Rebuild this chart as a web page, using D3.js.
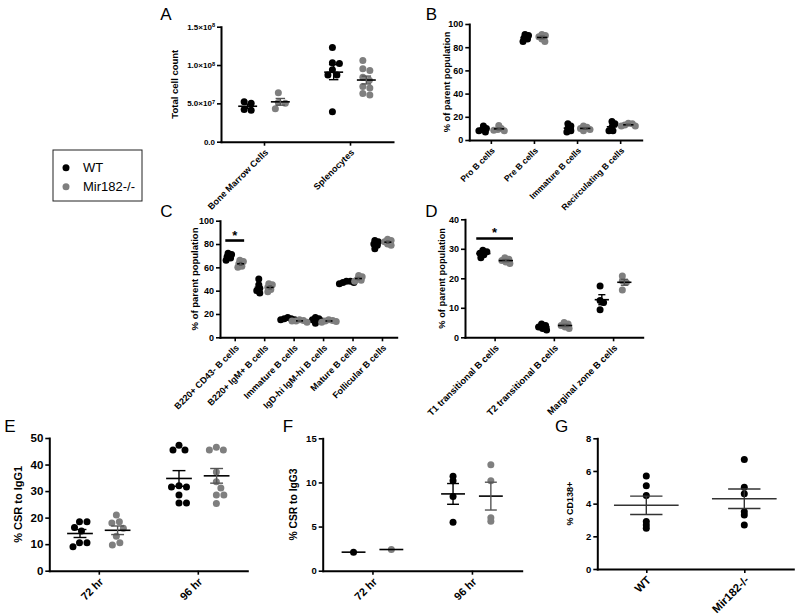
<!DOCTYPE html>
<html>
<head>
<meta charset="utf-8">
<script src="https://cdn.jsdelivr.net/npm/d3@7"></script>
<style>
body{margin:0;background:#fff}
svg{display:block}
text{font-family:Arial,"Liberation Sans",sans-serif}
</style>
</head>
<body>
<svg id="fig" width="800" height="616"></svg>
<script>
// ---- data ----
// A: total cell count
var aCats=['Bone Marrow Cells','Splenocytes'];
var aWT=[[5.2e7,5.0e7,4.2e7,4.1e7],[1.23e8,1.03e8,1.02e8,0.94e8,0.87e8,0.87e8,0.39e8]];
var aKO=[[6.4e7,5.1e7,5.0e7,4.3e7],[1.06e8,0.95e8,0.93e8,0.84e8,0.80e8,0.72e8,0.70e8,0.63e8,0.61e8]];
var aTicks=[0,5e7,1e8,1.5e8];

// B: bone marrow subsets
var bCats=['Pro B cells','Pre B cells','Immature B cells','Recirculating B cells'];
var bWT=[[12,10,9,8,7],[91,90,88,87,85],[14,12,10,8,7],[16,14,11,8,8]];
var bKO=[[12.5,10,9,8.5,8],[91,90,89,87,85],[12,11,10,9,8],[14.5,14,13,12,12]];
var bTicks=[0,20,40,60,80,100];

// C: spleen subsets
var cCats=['B220+ CD43- B cells','B220+ IgM+ B cells','Immature B cells','IgD-hi IgM-hi B cells','Mature B cells','Follicular B cells'];
var cWT=[[72,71,69,68,66],[50,45,42,40,38],[17,16,16,15,15],[17,16,15,14,12],[48,48,47,47,46],[83,82,80,79,76]];
var cKO=[[66,65,63,61,60],[46,45,43,41,39],[15,14.5,14,14,13],[15,14.5,14,13.5,13],[53,52,50,49,48],[84,83,82,80,79]];
var cTicks=[0,20,40,60,80,100];
var cSig=[{cat:'B220+ CD43- B cells',y:83}];

// D: transitional / marginal zone
var dCats=['T1 transitional B cells','T2 transitional B cells','Marginal zone B cells'];
var dWT=[[29.5,29,28.5,28,27],[4.5,4,3.5,3,2.5],[17.4,12.5,11.8,9.3]];
var dKO=[[27,26.5,26,25.5,25],[5,4.5,4,3.5,3],[20.8,19.2,18.6,16]];
var dTicks=[0,10,20,30,40];
var dSig=[{cat:'T1 transitional B cells',y:33.5}];

// E: CSR to IgG1
var eCats=['72 hr','96 hr'];
var eWT=[[18.4,18.4,16.3,15,10.5,10.5,9],[47.3,45.5,45.5,32,31.5,31.5,28.5,25.5,25.5]];
var eKO=[[21,18.4,18,16,13,10.5,9.7],[46.5,45.5,45.5,37.2,33.5,31.2,28.5,28.5,25.3]];
var eTicks=[0,10,20,30,40,50];

// F: CSR to IgG3
var fCats=['72 hr','96 hr'];
var fWT=[[2.1],[10.7,10.2,8.4,5.5]];
var fKO=[[2.4],[12,10.2,6,5.6]];
var fTicks=[0,5,10,15];

// G: CD138+
var gCats=['WT','Mir182-/-'];
var gVals=[[5.7,5.1,4.5,2.9,2.7,2.5],[6.7,5.0,4.6,3.5,3.3,2.7]];
var gTicks=[0,2,4,6,8];

var BLACK='#000', GREY='#7f7f7f';
var R=3.5;

var svg=d3.select('#fig');

function sem(a){
	if(a.length<2) return 0;
	return d3.deviation(a)/Math.sqrt(a.length);
}

// simple beeswarm: offsets so dots don't sit closer than sep
function swarm(vals,y,sep){
	var idx=vals.map(function(v,i){return i;}).sort(function(i,j){return vals[j]-vals[i];});
	var placed=[], off=[];
	idx.forEach(function(i){
		var py=y(vals[i]), k=0, cand=0;
		while(true){
			cand=k===0?0:(k%2?1:-1)*Math.ceil(k/2)*0.5;
			var ok=placed.every(function(p){return (p.x-cand)*(p.x-cand)+(p.y-py)*(p.y-py)>=sep*sep;});
			if(ok) break;
			k++;
		}
		placed.push({x:cand,y:py});
		off[i]=cand;
	});
	var ext=d3.extent(off), c=(ext[0]+ext[1])/2;
	return off.map(function(o){return o-c;});
}

function sciLabel(sel){
	sel.each(function(d){
		var t=d3.select(this).text(null);
		if(d===0){t.text('0.0');return;}
		var e=Math.floor(Math.log10(d)), m=(d/Math.pow(10,e)).toFixed(1);
		t.append('tspan').text(m+'\u00d710');
		t.append('tspan').attr('dy','-0.45em').style('font-size','70%').text(e);
	});
}

function panel(p){
	var g=svg.append('g');
	var x=d3.scalePoint().domain(p.cats).range([p.x0,p.x1]).padding(0.5);
	var y=d3.scaleLinear().domain([0,p.ymax]).range([p.y0,p.y1]);
	var step=x.step();

	// axes
	var ya=g.append('g').attr('transform','translate('+p.x0+',0)')
		.call(d3.axisLeft(y).tickValues(p.ticks).tickSize(4).tickSizeOuter(0).tickPadding(2));
	var xa=g.append('g').attr('transform','translate(0,'+p.y0+')')
		.call(d3.axisBottom(x).tickSize(4).tickSizeOuter(0));
	[ya,xa].forEach(function(a){
		a.attr('font-family',null).attr('font-size',null);
		a.select('.domain').style('stroke','#000').style('stroke-width','2px').style('stroke-linecap','square');
		a.selectAll('.tick line').style('stroke','#000').style('stroke-width','1.6px');
		a.selectAll('text').style('fill','#000').style('font-weight','bold');
	});
	ya.selectAll('text').style('font-size',p.tickFont+'px');
	if(p.sci) ya.selectAll('.tick text').call(sciLabel);
	xa.selectAll('text').style('font-size',p.labFont+'px')
		.attr('x',0).attr('y',0).attr('dy','0.35em')
		.attr('text-anchor','end')
		.attr('transform','translate(2,9) rotate(-45)');

	// axis title
	g.append('text').text(p.title)
		.attr('transform','translate('+p.titleX+','+((p.y0+p.y1)/2)+') rotate(-90)')
		.attr('dy','0.35em').attr('text-anchor','middle')
		.style('font-size',p.titleFont+'px').style('font-weight','bold');

	// panel letter
	g.append('text').text(p.letter).attr('x',p.lx).attr('y',p.ly)
		.attr('text-anchor','middle').attr('dy','0.36em')
		.style('font-size','17px');

	// groups
	var ns=p.series.length;
	p.series.forEach(function(s,si){
		var shift=ns>1?(si===0?-1:1)*p.grp*step:0;
		p.cats.forEach(function(c,ci){
			var vals=s.v[ci], cx=x(c)+shift;
			var off=swarm(vals,y,p.sep);
			var m=d3.mean(vals), se=sem(vals);
			var hw=p.hw*step;
			g.append('g').selectAll('circle').data(vals).enter().append('circle')
				.attr('cx',function(d,i){return cx+off[i];})
				.attr('cy',function(d){return y(d);})
				.attr('r',R)
				.style('fill',s.c);
			g.append('line').attr('x1',cx-hw).attr('x2',cx+hw).attr('y1',y(m)).attr('y2',y(m))
				.style('stroke',s.m).style('stroke-width','1.6px');
			if(se>0){
				var eb=g.append('g').style('stroke',s.e).style('stroke-width','1.4px');
				eb.append('line').attr('x1',cx).attr('x2',cx).attr('y1',y(m-se)).attr('y2',y(m+se));
				eb.append('line').attr('x1',cx-hw/2).attr('x2',cx+hw/2).attr('y1',y(m+se)).attr('y2',y(m+se));
				eb.append('line').attr('x1',cx-hw/2).attr('x2',cx+hw/2).attr('y1',y(m-se)).attr('y2',y(m-se));
			}
		});
	});

	// significance bars
	(p.sig||[]).forEach(function(s){
		var half=(p.grp+p.hw)*step, cx=x(s.cat);
		g.append('line').attr('x1',cx-half).attr('x2',cx+half).attr('y1',y(s.y)).attr('y2',y(s.y))
			.style('stroke','#000').style('stroke-width','2.6px');
		g.append('text').text('*').attr('x',cx).attr('y',y(s.y)-1).attr('text-anchor','middle')
			.style('font-size','13px').style('font-weight','bold');
	});
}

var two=function(wt,ko){
	return [{v:wt,c:BLACK,m:BLACK,e:BLACK},{v:ko,c:GREY,m:BLACK,e:'#555'}];
};

panel({letter:'A',lx:166,ly:13.5,cats:aCats,series:two(aWT,aKO),
	x0:221,x1:393,y0:141.7,y1:26.7,ymax:1.5e8,ticks:aTicks,sci:true,
	tickFont:8,labFont:9,title:'Total cell count',titleFont:9.5,titleX:175,
	grp:0.19,hw:0.11,sep:6.8});
panel({letter:'B',lx:431.5,ly:13.5,cats:bCats,series:two(bWT,bKO),
	x0:469.3,x1:641.7,y0:140,y1:24,ymax:100,ticks:bTicks,
	tickFont:9,labFont:8.6,title:'% of parent population',titleFont:9.3,titleX:446.7,
	grp:0.19,hw:0.12,sep:3.6});
panel({letter:'C',lx:166.5,ly:211,cats:cCats,series:two(cWT,cKO),sig:cSig,
	x0:220,x1:396.7,y0:337.3,y1:220.7,ymax:100,ticks:cTicks,
	tickFont:9,labFont:9,title:'% of parent population',titleFont:9.5,titleX:195,
	grp:0.2,hw:0.12,sep:3.6});
panel({letter:'D',lx:431.5,ly:211,cats:dCats,series:two(dWT,dKO),sig:dSig,
	x0:465,x1:642.7,y0:337.3,y1:219.3,ymax:40,ticks:dTicks,
	tickFont:9,labFont:9.3,title:'% of parent population',titleFont:9.3,titleX:441.7,
	grp:0.19,hw:0.12,sep:4});
panel({letter:'E',lx:10,ly:426,cats:eCats,series:two(eWT,eKO),
	x0:49.3,x1:247.3,y0:570.7,y1:438,ymax:50,ticks:eTicks,
	tickFont:11.5,labFont:11,title:'% CSR to IgG1',titleFont:11,titleX:18.5,
	grp:0.19,hw:0.13,sep:7.4});
panel({letter:'F',lx:288,ly:426,cats:fCats,series:two(fWT,fKO),
	x0:322.7,x1:521.7,y0:570.7,y1:438.3,ymax:15,ticks:fTicks,
	tickFont:9.5,labFont:11,title:'% CSR to IgG3',titleFont:10.3,titleX:293.5,
	grp:0.19,hw:0.12,sep:0});
panel({letter:'G',lx:561.5,ly:426,cats:gCats,series:[{v:gVals,c:BLACK,m:'#333',e:'#333'}],
	x0:597.3,x1:793.3,y0:569,y1:438.3,ymax:8,ticks:gTicks,
	tickFont:9.5,labFont:11.3,title:'% CD138+',titleFont:9,titleX:570,
	grp:0,hw:0.33,sep:0});

// legend
var leg=svg.append('g');
leg.append('rect').attr('x',53).attr('y',150).attr('width',89).attr('height',51)
	.style('fill','none').style('stroke','#222').style('stroke-width','1px');
var legItems=[{t:'WT',c:BLACK},{t:'Mir182-/-',c:GREY}];
var li=leg.selectAll('g.item').data(legItems).enter().append('g')
	.attr('transform',function(d,i){return 'translate(0,'+(167.7+i*19)+')';});
li.append('circle').attr('cx',66).attr('cy',0).attr('r',R).style('fill',function(d){return d.c;});
li.append('text').attr('x',83).attr('dy','0.36em').text(function(d){return d.t;}).style('font-size','13px');
</script>
</body>
</html>
